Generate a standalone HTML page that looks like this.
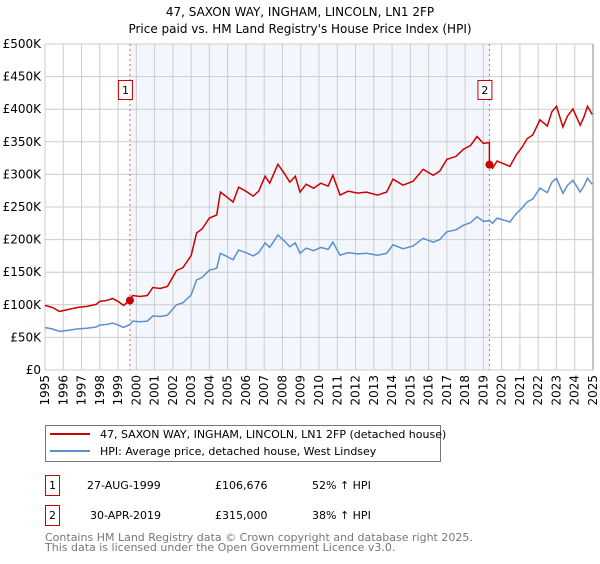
<!DOCTYPE html>
<html><head><meta charset="utf-8"><style>
body{margin:0;background:#fff;width:600px;height:560px;overflow:hidden;font-family:"DejaVu Sans","Liberation Sans",sans-serif;}
svg text{font-family:"DejaVu Sans","Liberation Sans",sans-serif;}
</style></head><body>
<svg id="chart" width="600" height="560" xmlns="http://www.w3.org/2000/svg">
<text x="300" y="16" text-anchor="middle" font-size="12" fill="#000">47, SAXON WAY, INGHAM, LINCOLN, LN1 2FP</text>
<text x="300" y="33" text-anchor="middle" font-size="12" fill="#000">Price paid vs. HM Land Registry's House Price Index (HPI)</text>
<g id="plot"></g>
<g>
<rect x="45.5" y="425.5" width="395" height="36" fill="#fff" stroke="#777"/>
<line x1="50" y1="434" x2="90" y2="434" stroke="#cc0000" stroke-width="2"/>
<text x="100" y="438" font-size="11">47, SAXON WAY, INGHAM, LINCOLN, LN1 2FP (detached house)</text>
<line x1="50" y1="451" x2="90" y2="451" stroke="#5b8fd0" stroke-width="2"/>
<text x="100" y="455" font-size="11">HPI: Average price, detached house, West Lindsey</text>
</g>
<g font-size="11">
<rect x="45.5" y="475.5" width="14" height="20" fill="#fff" stroke="#cc0000"/>
<text x="52.5" y="489" text-anchor="middle">1</text>
<text x="87" y="489">27-AUG-1999</text><text x="215" y="489">£106,676</text><text x="312" y="489">52% ↑ HPI</text>
<rect x="45.5" y="505.5" width="14" height="20" fill="#fff" stroke="#cc0000"/>
<text x="52.5" y="519" text-anchor="middle">2</text>
<text x="90" y="519">30-APR-2019</text><text x="215" y="519">£315,000</text><text x="312" y="519">38% ↑ HPI</text>
</g>
<text x="45" y="541" font-size="11" fill="#777">Contains HM Land Registry data © Crown copyright and database right 2025.</text>
<text x="45" y="551" font-size="11" fill="#777">This data is licensed under the Open Government Licence v3.0.</text>
</svg>
<script>
const hpiYears=[1995,1995.4,1995.8,1996.3,1996.8,1997.3,1997.8,1998.0,1998.4,1998.7,1999.0,1999.3,1999.65,1999.8,2000.2,2000.6,2000.9,2001.3,2001.7,2002.2,2002.55,2003.0,2003.3,2003.6,2004.0,2004.4,2004.6,2004.9,2005.3,2005.6,2006.0,2006.4,2006.7,2007.05,2007.3,2007.75,2008.1,2008.4,2008.7,2008.96,2009.3,2009.7,2010.1,2010.5,2010.76,2011.15,2011.6,2012.1,2012.6,2013.2,2013.7,2014.05,2014.6,2015.15,2015.7,2016.25,2016.6,2017.0,2017.5,2017.9,2018.3,2018.65,2019.0,2019.33,2019.5,2019.75,2020.1,2020.45,2020.8,2021.1,2021.4,2021.7,2022.1,2022.5,2022.75,2023.0,2023.35,2023.6,2023.9,2024.3,2024.5,2024.7,2024.95];
const hpiValues=[65,63,59,61,63,64,66,69,70,72,69,65,70,75,74,75,83,82,84,100,103,115,138,142,153,156,179,175,169,184,180,175,180,195,188,207,198,189,195,179,187,183,188,185,196,176,180,178,179,176,179,192,186,190,202,196,200,212,215,222,226,235,228,229,225,233,230,227,240,248,258,262,279,272,288,294,271,283,291,273,282,294,285];
const saleYears=[1999.65,2019.33];
const salePrices=[106.676,315];
const yTicks=[0,50,100,150,200,250,300,350,400,450,500];
const yTickLabels=["£0","£50K","£100K","£150K","£200K","£250K","£300K","£350K","£400K","£450K","£500K"];
const xTicks=[1995,1996,1997,1998,1999,2000,2001,2002,2003,2004,2005,2006,2007,2008,2009,2010,2011,2012,2013,2014,2015,2016,2017,2018,2019,2020,2021,2022,2023,2024,2025];
const NS="http://www.w3.org/2000/svg";
const X0=45,X1=593,Y0=370,Y1=44;
const xs=y=>X0+(y-1995)/(2025-1995)*(X1-X0);
const ys=v=>Y0-v/500*(Y0-Y1);
const plot=document.getElementById('plot');
function mk(t,a){const e=document.createElementNS(NS,t);for(const k in a)e.setAttribute(k,a[k]);plot.appendChild(e);return e;}
function hpiAt(t){for(let i=1;i<hpiYears.length;i++){if(t<=hpiYears[i]){const f=(t-hpiYears[i-1])/(hpiYears[i]-hpiYears[i-1]);return hpiValues[i-1]+f*(hpiValues[i]-hpiValues[i-1]);}}return hpiValues[hpiValues.length-1];}
let e=mk('rect',{x:xs(saleYears[0]),y:Y1,width:xs(saleYears[1])-xs(saleYears[0]),height:Y0-Y1,fill:'#eef3fc',opacity:0.7});


yTicks.forEach((v,i)=>{
 let g=mk('line',{x1:X0,x2:X1,y1:ys(v),y2:ys(v),stroke:'#cccccc','stroke-width':1});
 
 
 let t=mk('text',{x:X0-4,y:ys(v)+4,'text-anchor':'end','font-size':12,fill:'#000'});
 t.textContent=yTickLabels[i];
 
 
});
xTicks.forEach(yr=>{
 let g=mk('line',{x1:xs(yr),x2:xs(yr),y1:Y1,y2:Y0,stroke:'#cccccc','stroke-width':1});
 
 
 let t=mk('text',{x:0,y:0,'text-anchor':'end','font-size':12,fill:'#000',transform:`translate(${xs(yr)+4},${Y0+5}) rotate(-90)`});
 t.textContent=yr;
 
 
});
let ax=mk('line',{x1:X1,x2:X1,y1:Y1,y2:Y0,stroke:'#888','stroke-width':1});


saleYears.forEach((s,i)=>{
 let l=mk('line',{x1:xs(s),x2:xs(s),y1:Y1,y2:Y0,stroke:'#e06060','stroke-width':1,'stroke-dasharray':'2,3'});
 
 
 let r=mk('rect',{x:xs(s)-11.5,y:80.5,width:14,height:19,fill:'#fff',stroke:'#cc0000'});
 
 
 let t=mk('text',{x:xs(s)-4.5,y:94,'text-anchor':'middle','font-size':11});
 t.textContent=String(i+1);
 
 
});
let bp=hpiYears.map((y,i)=>`${i?'L':'M'}${xs(y).toFixed(1)},${ys(hpiValues[i]).toFixed(1)}`).join('');
let bl=mk('path',{d:bp,fill:'none',stroke:'#5b8fd0','stroke-width':1.5});


// property line: HPI indexed to the sale price of each ownership period
let ratio0=salePrices[0]/hpiAt(saleYears[0]),ratio1=salePrices[1]/hpiAt(saleYears[1]);
let rp='';
hpiYears.forEach((y,i)=>{const r=y<saleYears[1]?ratio0:ratio1;rp+=`${i?'L':'M'}${xs(y).toFixed(1)},${ys(hpiValues[i]*r).toFixed(1)}`;if(i+1<hpiYears.length&&y<saleYears[1]&&hpiYears[i+1]>=saleYears[1]){rp+=`L${xs(saleYears[1]).toFixed(1)},${ys(hpiAt(saleYears[1])*ratio0).toFixed(1)}L${xs(saleYears[1]).toFixed(1)},${ys(salePrices[1]).toFixed(1)}`;}});
let rl=mk('path',{d:rp,fill:'none',stroke:'#cc0000','stroke-width':1.5});


saleYears.forEach((s,i)=>{
 let c=mk('circle',{cx:xs(s),cy:ys(salePrices[i]),r:4,fill:'#cc0000'});
 
 
});
</script>
</body></html>
